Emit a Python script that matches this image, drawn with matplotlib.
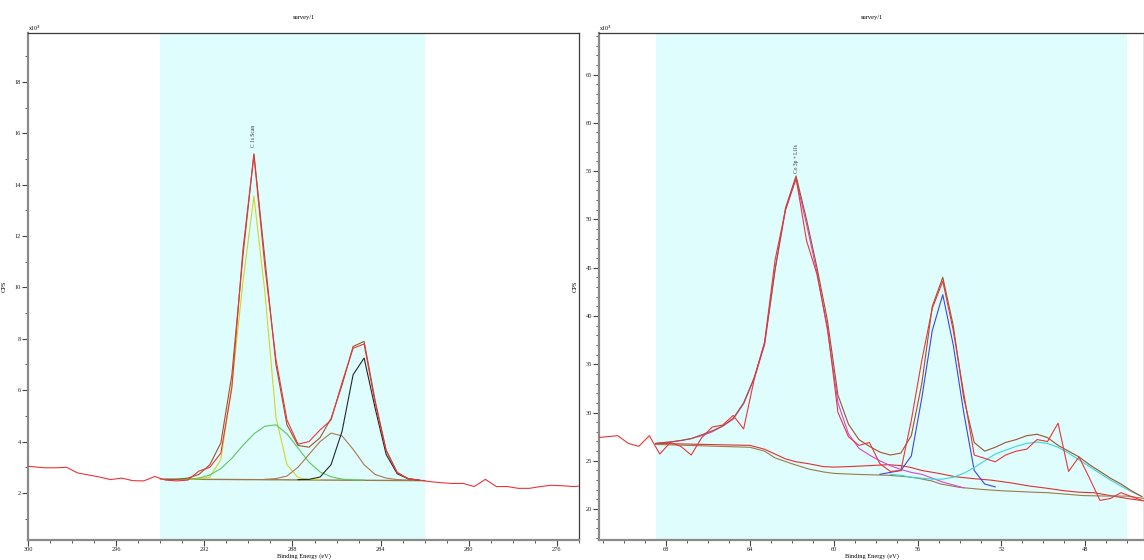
import matplotlib
matplotlib.use("Agg")
import matplotlib.pyplot as plt
from matplotlib.ticker import MultipleLocator

plt.rcParams['font.family'] = ['Liberation Serif', 'DejaVu Serif']

# ---------------- Left panel: C 1s ----------------
c_energy = [300.25, 299.75, 299.25, 298.75, 298.25, 297.75, 297.25, 296.75, 296.25, 295.75,
            295.25, 294.75, 294.25, 293.75, 293.25, 292.75, 292.25, 291.75, 291.25, 290.75,
            290.25, 289.75, 289.25, 288.75, 288.25, 287.75, 287.25, 286.75, 286.25, 285.75,
            285.25, 284.75, 284.25, 283.75, 283.25, 282.75, 282.25, 281.75, 281.25, 280.75,
            280.25, 279.75, 279.25, 278.75, 278.25, 277.75, 277.25, 276.75, 276.25, 275.75,
            275.25, 274.75]
c_counts = [3.05, 3.02, 2.98, 2.98, 3.00, 2.78, 2.70, 2.62, 2.52, 2.58,
            2.48, 2.47, 2.64, 2.50, 2.47, 2.50, 2.85, 3.00, 3.55, 6.10,
            11.45, 15.15, 10.80, 7.20, 4.84, 3.90, 4.00, 4.45, 4.84, 6.30,
            7.63, 7.80, 5.50, 3.67, 2.79, 2.56, 2.50, 2.44, 2.40, 2.37,
            2.37, 2.25, 2.53, 2.25, 2.25, 2.18, 2.18, 2.25, 2.30, 2.28,
            2.25, 2.28]

c_env_energy = [293.75, 293.25, 292.75, 292.25, 291.75, 291.25, 290.75, 290.25, 289.75, 289.25,
                288.75, 288.25, 287.75, 287.25, 286.75, 286.25, 285.75, 285.25, 284.75, 284.25,
                283.75, 283.25, 282.75, 282.25]
c_env = [2.53, 2.53, 2.58, 2.72, 3.10, 3.95, 6.60, 11.20, 15.20, 11.10,
         7.00, 4.65, 3.85, 3.78, 4.15, 4.90, 6.20, 7.70, 7.90, 5.60,
         3.65, 2.80, 2.55, 2.50]

c_bg_energy = [294.0, 282.0]
c_bg = [2.54, 2.48]

c_yel_energy = [292.75, 292.25, 291.75, 291.25, 290.75, 290.25, 289.75, 289.25, 288.75, 288.25,
                287.75, 287.25, 286.75]
c_yel = [2.53, 2.55, 2.62, 3.30, 6.20, 10.20, 13.55, 9.80, 4.95, 3.10, 2.60, 2.52, 2.52]

c_grn_energy = [293.25, 292.75, 292.25, 291.75, 291.25, 290.75, 290.25, 289.75, 289.25, 288.75,
                288.25, 287.75, 287.25, 286.75, 286.25, 285.75, 285.25, 284.75]
c_grn = [2.53, 2.54, 2.58, 2.70, 2.95, 3.35, 3.85, 4.30, 4.60, 4.65,
         4.30, 3.75, 3.20, 2.82, 2.63, 2.54, 2.51, 2.50]

c_brn_energy = [289.25, 288.75, 288.25, 287.75, 287.25, 286.75, 286.25, 285.75, 285.25, 284.75,
                284.25, 283.75, 283.25, 282.75]
c_brn = [2.53, 2.56, 2.66, 3.00, 3.50, 4.00, 4.33, 4.22, 3.70, 3.10, 2.72, 2.58, 2.52, 2.50]

c_blk_energy = [287.75, 287.25, 286.75, 286.25, 285.75, 285.25, 284.75, 284.25, 283.75, 283.25,
                282.75, 282.25]
c_blk = [2.52, 2.53, 2.62, 3.10, 4.40, 6.60, 7.25, 5.30, 3.50, 2.75, 2.55, 2.50]

c_region = (294.0, 282.0)
c_label = "C 1s Scan"
c_label_pos = (289.75, 15.45)

# ---------------- Right panel ----------------
r_energy = [71.3, 70.8, 70.3, 69.8, 69.3, 68.8, 68.3, 67.8, 67.3, 66.8,
            66.3, 65.8, 65.3, 64.8, 64.3, 63.8, 63.3, 62.8, 62.3, 61.8,
            61.3, 60.8, 60.3, 59.8, 59.3, 58.8, 58.3, 57.8, 57.3, 56.8,
            56.3, 55.8, 55.3, 54.8, 54.3, 53.8, 53.3, 52.8, 52.3, 51.8,
            51.3, 50.8, 50.3, 49.8, 49.3, 48.8, 48.3, 47.8, 47.3, 46.8,
            46.3, 45.8, 45.3]
r_counts = [27.4, 27.5, 27.6, 26.8, 26.5, 27.6, 25.7, 26.9, 26.5, 25.6,
            27.4, 28.5, 28.7, 29.7, 28.3, 33.4, 37.3, 45.8, 51.0, 54.3,
            47.8, 44.3, 38.8, 30.0, 27.5, 26.6, 26.9, 24.7, 23.9, 24.0,
            29.2, 35.4, 40.8, 43.6, 38.5, 32.0, 25.6, 25.25, 24.9, 25.6,
            26.0, 26.2, 27.2, 27.0, 28.9, 23.9, 25.4, 23.2, 20.9, 21.1,
            21.7, 21.3, 20.9]

r_env_energy = [68.5, 68.3, 67.8, 67.3, 66.8, 66.3, 65.8, 65.3, 64.8, 64.3,
                63.8, 63.3, 62.8, 62.3, 61.8, 61.3, 60.8, 60.3, 59.8, 59.3,
                58.8, 58.3, 57.8, 57.3, 56.8, 56.3, 55.8, 55.3, 54.8, 54.3,
                53.8, 53.3, 52.8, 52.3, 51.8, 51.3, 50.8, 50.3, 49.8, 49.3,
                48.8, 48.3, 47.8, 47.3, 46.8, 46.3, 45.8, 45.3]
r_env = [26.8, 26.85, 26.95, 27.1, 27.3, 27.7, 28.1, 28.6, 29.4, 31.0,
         33.6, 37.2, 44.8, 51.2, 54.5, 50.0, 45.0, 39.5, 31.8, 28.8,
         27.2, 26.5, 25.9, 25.6, 25.8, 27.6, 33.0, 41.0, 44.0, 39.0,
         31.5, 26.9, 26.0, 26.4, 26.9, 27.2, 27.6, 27.75, 27.4, 26.6,
         26.0, 25.4, 24.6, 23.9, 23.2, 22.6, 21.9, 21.3]

r_mag_energy = [68.5, 68.3, 67.8, 67.3, 66.8, 66.3, 65.8, 65.3, 64.8, 64.3,
                63.8, 63.3, 62.8, 62.3, 61.8, 61.3, 60.8, 60.3, 59.8, 59.3,
                58.8, 58.3, 57.8, 57.3, 56.8, 56.3, 55.8, 55.3, 54.8, 54.3,
                53.8]
r_mag = [26.8, 26.85, 26.95, 27.1, 27.3, 27.6, 28.0, 28.6, 29.3, 30.9,
         33.5, 37.0, 44.8, 51.0, 54.2, 49.5, 44.5, 38.5, 31.0, 27.8,
         26.3, 25.6, 25.0, 24.5, 24.1, 23.8, 23.6, 23.2, 22.8, 22.5,
         22.2]

r_blu_energy = [57.8, 57.3, 56.8, 56.3, 55.8, 55.3, 54.8, 54.3, 53.8, 53.3, 52.8, 52.3]
r_blu = [23.6, 23.8, 24.0, 25.5, 31.5, 38.5, 42.2, 37.0, 30.0, 24.0, 22.6, 22.3]

r_cya_energy = [57.3, 56.8, 56.3, 55.8, 55.3, 54.8, 54.3, 53.8, 53.3, 52.8,
                52.3, 51.8, 51.3, 50.8, 50.3, 49.8, 49.3, 48.8, 48.3, 47.8,
                47.3, 46.8, 46.3, 45.8, 45.3]
r_cya = [23.6, 23.5, 23.3, 23.2, 23.1, 23.1, 23.3, 23.7, 24.3, 25.0,
         25.7, 26.1, 26.5, 26.8, 26.95, 26.8, 26.4, 25.8, 25.1, 24.4,
         23.7, 23.0, 22.4, 21.8, 21.3]

r_bgu_energy = [68.5, 64.0, 63.3, 62.8, 62.3, 61.8, 61.2, 60.5, 60.0, 59.3,
                58.3, 57.4, 56.8, 56.3, 55.8, 55.0, 54.2, 53.3, 52.5, 51.5,
                50.7, 49.8, 49.0, 48.3, 47.6, 46.8, 46.0, 45.2]
r_bgu = [26.8, 26.6, 26.2, 25.7, 25.2, 24.9, 24.7, 24.4, 24.35, 24.4,
         24.5, 24.6, 24.5, 24.3, 24.0, 23.7, 23.35, 23.15, 23.0, 22.7,
         22.4, 22.15, 21.9, 21.75, 21.7, 21.4, 21.1, 20.85]

r_bgl_energy = [68.5, 64.0, 63.3, 62.8, 62.0, 61.2, 60.5, 60.0, 59.0, 57.4,
                56.5, 56.0, 55.3, 54.9, 54.0, 53.0, 52.0, 50.5, 49.8, 48.1,
                47.0, 46.0, 45.2]
r_bgl = [26.7, 26.4, 26.0, 25.3, 24.7, 24.15, 23.85, 23.7, 23.6, 23.5,
         23.35, 23.2, 22.9, 22.6, 22.25, 22.05, 21.9, 21.75, 21.7, 21.4,
         21.35, 21.35, 21.1]

r_region = (68.5, 46.0)
r_label = "Co 3p + Li1s"
r_label_pos = (61.8, 54.8)

# ---------------- Styling ----------------
RAW = '#E8363A'
ENV = '#A0522D'
SHADE = '#E0FDFD'
FS = 4.6

fig = plt.figure(figsize=(11.44, 5.6), dpi=100)
W, H = 1144.0, 560.0
axL = fig.add_axes([28 / W, 1 - 540 / H, (579 - 28) / W, (540 - 33) / H])
axR = fig.add_axes([599 / W, 1 - 540 / H, (1144 - 599) / W, (540 - 33) / H])


def style(ax, xlim, ylim, ymaj, ymin):
    ax.set_xlim(*xlim)
    ax.set_ylim(*ylim)
    ax.xaxis.set_major_locator(MultipleLocator(4))
    ax.xaxis.set_minor_locator(MultipleLocator(1))
    ax.yaxis.set_major_locator(MultipleLocator(ymaj))
    ax.yaxis.set_minor_locator(MultipleLocator(ymin))
    ax.tick_params(which='major', direction='out', length=4, width=0.8,
                   labelsize=FS, pad=1, colors='#444444', labelcolor='#222222')
    ax.tick_params(which='minor', direction='out', length=2, width=0.6, colors='#444444')
    for s in ['left', 'bottom']:
        ax.spines[s].set_color('#8a8a8a')
        ax.spines[s].set_linewidth(1.6)
    for s in ['top', 'right']:
        ax.spines[s].set_color('#3a3a3a')
        ax.spines[s].set_linewidth(0.9)
    ax.set_xlabel('Binding Energy (eV)', fontsize=FS, labelpad=1)
    ax.set_ylabel('CPS', fontsize=FS, labelpad=6)
    ax.set_title('survey/1', fontsize=FS, pad=10)
    ax.text(0.0, 1.0, r'x10$^3$', transform=ax.transAxes, fontsize=FS - 0.4,
            ha='left', va='bottom')


# Left
axL.axvspan(*c_region, color=SHADE, lw=0, zorder=0)
axL.plot(c_energy, c_counts, color=RAW, lw=0.8, zorder=5)
axL.plot(c_bg_energy, c_bg, color='#9B7B4A', lw=1.0, zorder=3)
axL.plot(c_yel_energy, c_yel, color='#D4D428', lw=0.8, zorder=4)
axL.plot(c_grn_energy, c_grn, color='#5CC85C', lw=0.8, zorder=4)
axL.plot(c_brn_energy, c_brn, color='#A87A50', lw=0.8, zorder=4)
axL.plot(c_blk_energy, c_blk, color='#1E2A2A', lw=0.8, zorder=4)
axL.plot(c_env_energy, c_env, color=ENV, lw=0.8, zorder=4)
axL.text(c_label_pos[0], c_label_pos[1], c_label, rotation=90, fontsize=FS - 0.6,
         ha='center', va='bottom', color='#333333')
style(axL, (300, 275), (0.17, 19.9), 2, 1)

# Right
axR.axvspan(*r_region, color=SHADE, lw=0, zorder=0)
axR.plot(r_bgu_energy, r_bgu, color='#E03030', lw=0.8, zorder=3)
axR.plot(r_bgl_energy, r_bgl, color='#9B7B4A', lw=0.8, zorder=3)
axR.plot(r_mag_energy, r_mag, color='#D646D6', lw=0.8, zorder=4)
axR.plot(r_blu_energy, r_blu, color='#3A48E0', lw=0.8, zorder=4)
axR.plot(r_cya_energy, r_cya, color='#3ED6D6', lw=0.8, zorder=4)
axR.plot(r_env_energy, r_env, color=ENV, lw=0.8, zorder=4)
axR.plot(r_energy, r_counts, color=RAW, lw=0.8, zorder=5)
axR.text(r_label_pos[0], r_label_pos[1], r_label, rotation=90, fontsize=FS - 0.6,
         ha='center', va='bottom', color='#333333')
style(axR, (71.2, 45.2), (16.8, 69.3), 5, 1)

fig.savefig('out.png', dpi=100)
